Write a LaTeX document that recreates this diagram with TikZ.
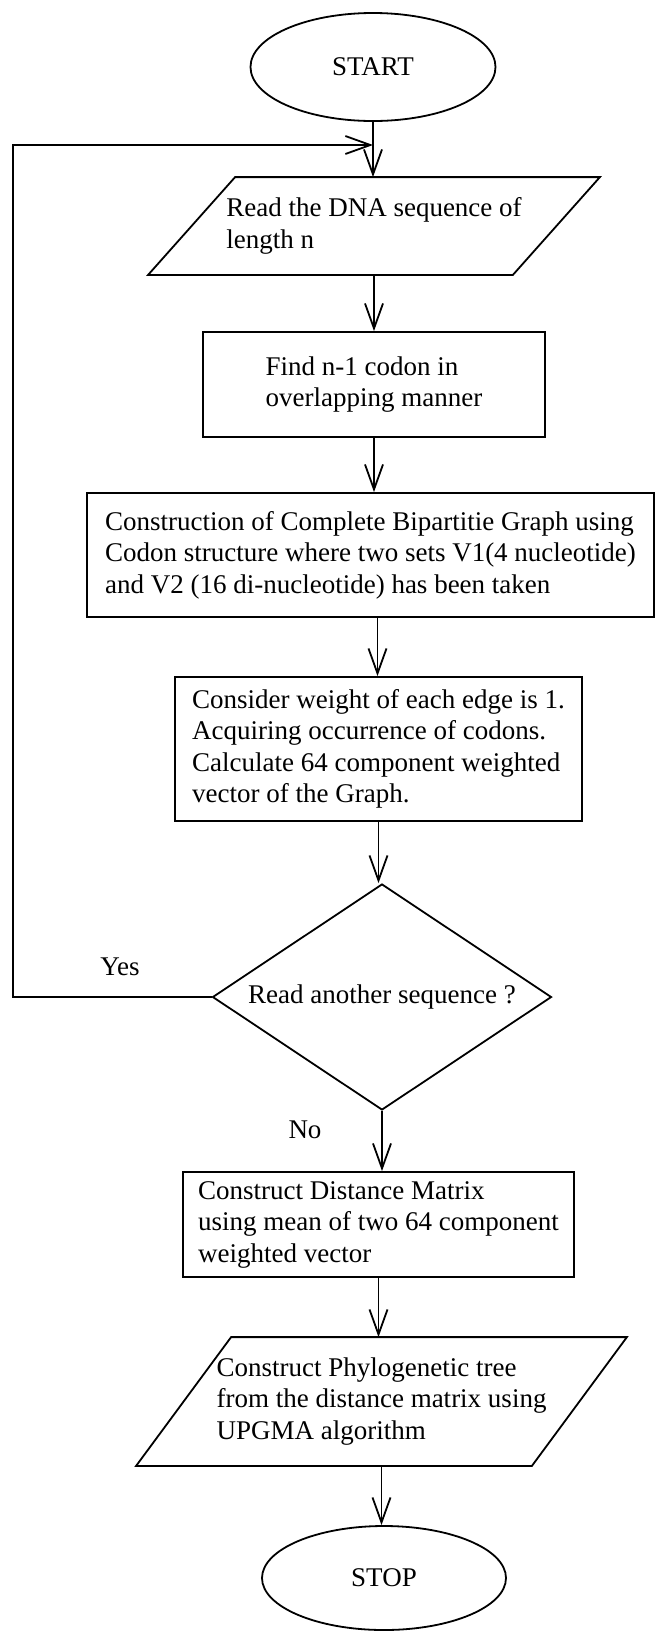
\documentclass[tikz,border=0pt]{standalone}
\usepackage{fontspec}
\setmainfont{Liberation Serif}
\usetikzlibrary{arrows.meta,shapes.geometric,calc,positioning}

\newcommand{\flowfont}{\fontsize{27}{31.5}\selectfont}

\begin{document}
\begin{tikzpicture}[x=1pt,y=-1pt,line width=1.8pt,
  arr/.style={-{Straight Barb[length=25pt,width=18pt,line width=1.8pt]}},
  box/.style={draw,rectangle,align=left,inner sep=0pt},
  io/.style={rectangle,align=left,inner sep=0pt},
  term/.style={draw,ellipse,inner sep=0pt}]
\tikzstyle{every node}=[font=\flowfont]
\useasboundingbox (0,0) rectangle (656,1631);

\node[term, minimum width=245, minimum height=108] (start) at (373,67) {START};
\node[io, minimum width=450, minimum height=96] (read) at (374,226)
  {Read the DNA sequence of\\length n};
\node[box, minimum width=342, minimum height=105] (codon) at (374,384.5)
  {Find n-1 codon in\\overlapping manner};
\node[box, minimum width=567, minimum height=124] (graph) at (370.5,555)
  {Construction of Complete Bipartitie Graph using\\Codon structure where two sets V1(4 nucleotide)\\and V2 (16 di-nucleotide) has been taken};
\node[box, minimum width=407, minimum height=144] (weight) at (378.5,749)
  {Consider weight of each edge is 1.\\Acquiring occurrence of codons.\\Calculate 64 component weighted\\vector of the Graph.};
\node[draw, diamond, aspect=1.5, inner sep=0pt, minimum width=339, minimum height=226]
  (decide) at (382,997) {Read another sequence ?};
\node[box, minimum width=391, minimum height=105] (matrix) at (378.5,1224.5)
  {Construct Distance Matrix\\using mean of two 64 component\\weighted vector};
\node[io, minimum width=489, minimum height=127] (tree) at (381.5,1401.5)
  {Construct Phylogenetic tree\\from the distance matrix using\\UPGMA algorithm};
\node[term, minimum width=244, minimum height=104] (stop) at (384,1578) {STOP};

% slanted input/output outlines
\draw (read.south west) -- ($(read.north west)+(87,0)$) -- (read.north east)
  -- ($(read.south east)-(87,0)$) -- cycle;
\draw (tree.south west) -- ($(tree.north west)+(95,0)$) -- (tree.north east)
  -- ($(tree.south east)-(95,0)$) -- cycle;

\node (yes) at (120,967) {Yes};
\node (no) at (305,1130) {No};

\coordinate (merge) at (373,145);
\coordinate (loop) at (13,145);

% main flow
\draw[arr] (start.south) -- (start.south |- read.north);
\draw[arr] (read.south) -- (read.south |- codon.north);
\draw[arr] (codon.south) -- (codon.south |- graph.north);
\draw[arr] (graph.south) ++(7,0) coordinate (g) -- (g |- weight.north);
\draw[arr] (weight.south) -- (weight.south |- decide.north);
\draw[arr] (decide.south) -- (decide.south |- matrix.north);
\draw[arr] (matrix.south) -- (matrix.south |- tree.north);
\draw[arr] (tree.south) -- (tree.south |- stop.north);
% loop back
\draw[arr] (decide.west) -| (loop) -- (merge);

\end{tikzpicture}
\end{document}
